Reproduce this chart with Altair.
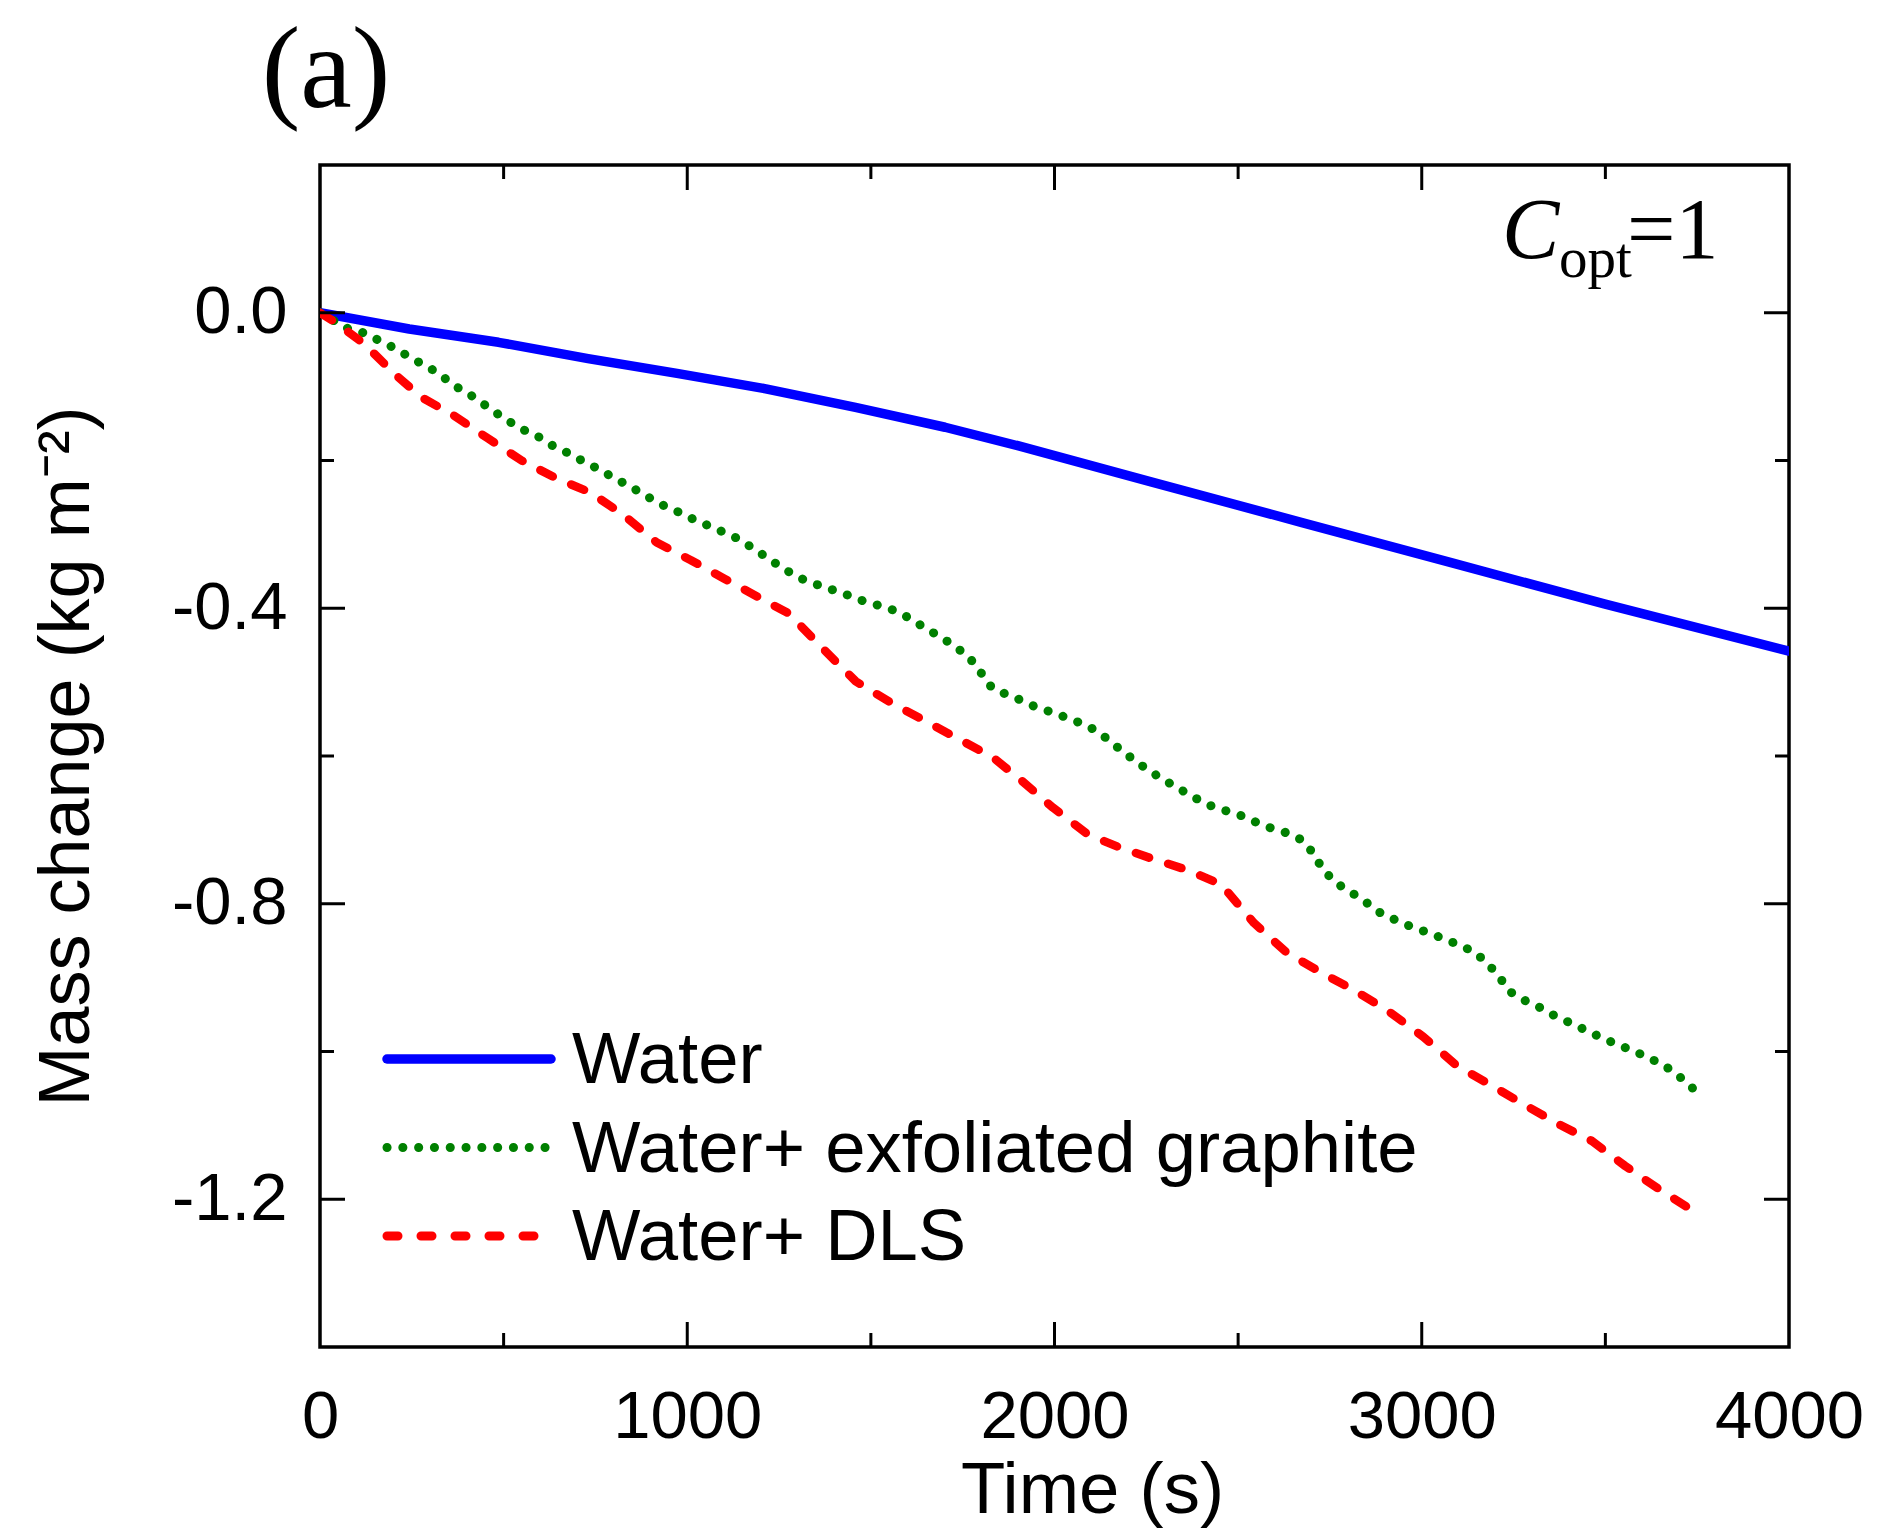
import altair as alt
import pandas as pd

# ---------------- data ----------------
SERIES = ["Water", "Water+ exfoliated graphite", "Water+ DLS"]
COLORS = ["#0000FF", "#008000", "#FF0000"]

water_t = [0, 243, 486, 730, 972, 1214, 1458, 1702, 1900, 2263, 2674, 3085, 3497, 4000]
water_v = [0.0, -0.022, -0.040, -0.062, -0.082, -0.103, -0.128, -0.155, -0.180, -0.229, -0.284,
           -0.339, -0.394, -0.458]

graph_t = [0, 78, 125, 166, 208, 250, 297, 338, 380, 422, 463, 505, 547, 589, 630, 672, 713, 760,
           802, 844, 885, 927, 969, 1010, 1052, 1094, 1139, 1180, 1222, 1264, 1306, 1348, 1389,
           1431, 1472, 1514, 1558, 1604, 1642, 1683, 1725, 1767, 1798, 1830, 1871, 1912, 1954,
           1996, 2037, 2085, 2121, 2166, 2210, 2252, 2293, 2335, 2376, 2418, 2459, 2505, 2546,
           2587, 2632, 2671, 2704, 2731, 2767, 2809, 2851, 2892, 2934, 2976, 3017, 3058, 3103,
           3142, 3178, 3211, 3240, 3281, 3324, 3367, 3408, 3450, 3493, 3535, 3576, 3620, 3661,
           3704, 3750]
graph_v = [0.0, -0.022, -0.028, -0.039, -0.049, -0.062, -0.074, -0.088, -0.103, -0.115, -0.130,
           -0.144, -0.157, -0.166, -0.179, -0.189, -0.200, -0.212, -0.224, -0.235, -0.247, -0.259,
           -0.268, -0.278, -0.287, -0.296, -0.306, -0.319, -0.333, -0.347, -0.359, -0.367, -0.374,
           -0.381, -0.389, -0.395, -0.402, -0.413, -0.425, -0.437, -0.450, -0.466, -0.486, -0.508,
           -0.517, -0.525, -0.535, -0.541, -0.549, -0.558, -0.568, -0.586, -0.603, -0.618, -0.631,
           -0.643, -0.655, -0.666, -0.673, -0.680, -0.689, -0.697, -0.704, -0.713, -0.731, -0.754,
           -0.772, -0.785, -0.799, -0.814, -0.823, -0.832, -0.839, -0.847, -0.856, -0.865, -0.880,
           -0.899, -0.919, -0.931, -0.941, -0.953, -0.962, -0.972, -0.982, -0.991, -0.999, -1.009,
           -1.019, -1.035, -1.055]

dls_t = [0, 42, 120, 208, 275, 364, 457, 549, 643, 735, 822, 917, 1010, 1101, 1190, 1276, 1370,
         1459, 1552, 1642, 1735, 1830, 1912, 1996, 2090, 2178, 2272, 2366, 2454, 2543, 2632, 2726,
         2819, 2908, 3004, 3095, 3190, 3276, 3371, 3463, 3554, 3645, 3740, 3758]
dls_v = [0.0, -0.013, -0.042, -0.085, -0.114, -0.139, -0.170, -0.200, -0.224, -0.243, -0.272,
         -0.311, -0.335, -0.360, -0.384, -0.407, -0.455, -0.499, -0.527, -0.551, -0.576, -0.601,
         -0.634, -0.670, -0.706, -0.724, -0.740, -0.755, -0.774, -0.826, -0.866, -0.893, -0.918,
         -0.945, -0.980, -1.019, -1.046, -1.071, -1.098, -1.121, -1.155, -1.186, -1.216, -1.220]

X_LABELS = [0, 1000, 2000, 3000, 4000]
Y_LABELS = [-1.2, -0.8, -0.4, 0.0]
X_MAJOR = [1000, 2000, 3000]
X_MINOR = [500, 1500, 2500, 3500]
Y_MAJOR = [-1.2, -0.8, -0.4, 0.0]
Y_MINOR = [-1.0, -0.6, -0.2]

PANEL = "(a)"
ANN_C, ANN_SUB, ANN_EQ = "C", "opt", "=1"

# ---------------- layout ----------------
W, H = 1469, 1182
SANS = "Liberation Sans"
SERIF = "Liberation Serif"

xs = alt.Scale(domain=[0, 4000], nice=False, zero=False)
ys = alt.Scale(domain=[-1.4, 0.2], nice=False, zero=False)

x_axis = alt.Axis(values=X_LABELS, format="d", title="Time (s)", ticks=False, tickSize=0,
                  domain=False, grid=False, labelFont=SANS, labelFontSize=67, labelColor="black",
                  labelPadding=37, labelFlush=False, labelOverlap=False, titleFont=SANS,
                  titleFontSize=72.5, titleFontWeight="normal", titleColor="black",
                  titlePadding=5, titleX=772, titleAlign="center")
y_axis = alt.Axis(values=Y_LABELS, title="Mass change (kg m⁻²)", ticks=False, tickSize=0,
                  domain=False, grid=False, labelFont=SANS, labelFontSize=67, labelColor="black",
                  labelPadding=33, labelFlush=False, labelOverlap=False,
                  labelExpr="replace(format(datum.value, '.1f'), '−', '-')",
                  titleFont=SANS, titleFontSize=72, titleFontWeight="normal", titleColor="black",
                  titlePadding=68)

X_ENC = dict(scale=xs, axis=x_axis)
Y_ENC = dict(scale=ys, axis=y_axis)

styles = [
    dict(strokeWidth=9.5),
    dict(strokeWidth=9, strokeDash=[0.1, 15.7]),
    dict(strokeWidth=8.5, strokeDash=[14, 20]),
]
legend_dash = [None, [0.1, 15.7], [11, 23]]

series_data = [(water_t, water_v), (graph_t, graph_v), (dls_t, dls_v)]

layers = []
for i, (name, (ts, vs)) in enumerate(zip(SERIES, series_data)):
    df = pd.DataFrame({"t": ts, "v": vs})
    layers.append(
        alt.Chart(df).mark_line(color=COLORS[i], strokeCap="round", strokeJoin="round",
                                clip=True, **styles[i])
        .encode(x=alt.X("t:Q", **X_ENC), y=alt.Y("v:Q", **Y_ENC))
    )

# inward ticks on all four sides
def xticks(vals, length):
    d = pd.DataFrame({"t": vals})
    bottom = alt.Chart(d).mark_rule(color="black", strokeWidth=3).encode(
        x=alt.X("t:Q", **X_ENC), y=alt.value(H), y2=alt.value(H - length))
    top = alt.Chart(d).mark_rule(color="black", strokeWidth=3).encode(
        x=alt.X("t:Q", **X_ENC), y=alt.value(0), y2=alt.value(length))
    return [bottom, top]

def yticks(vals, length):
    d = pd.DataFrame({"v": vals})
    left = alt.Chart(d).mark_rule(color="black", strokeWidth=3).encode(
        y=alt.Y("v:Q", **Y_ENC), x=alt.value(0), x2=alt.value(length))
    right = alt.Chart(d).mark_rule(color="black", strokeWidth=3).encode(
        y=alt.Y("v:Q", **Y_ENC), x=alt.value(W), x2=alt.value(W - length))
    return [left, right]

layers += xticks(X_MAJOR, 25) + xticks(X_MINOR, 14) + yticks(Y_MAJOR, 25) + yticks(Y_MINOR, 14)

# legend drawn inside the plot
for i, name in enumerate(SERIES):
    yy = 894 + 88.5 * i
    d = pd.DataFrame({"label": [name]})
    rule_kw = dict(color=COLORS[i], strokeWidth=9.5 if i == 0 else 9, strokeCap="round")
    if legend_dash[i] is not None:
        rule_kw["strokeDash"] = legend_dash[i]
    layers.append(alt.Chart(d).mark_rule(**rule_kw).encode(
        x=alt.value(67), x2=alt.value(231), y=alt.value(yy)))
    layers.append(alt.Chart(d).mark_text(align="left", baseline="middle", font=SANS,
                                         fontSize=72.5, color="black").encode(
        x=alt.value(252), y=alt.value(yy + 2), text="label:N"))

# annotations
def ann(text, x, y, size, style="normal", align="left"):
    d = pd.DataFrame({"label": [text]})
    return alt.Chart(d).mark_text(align=align, baseline="alphabetic", font=SERIF,
                                  fontSize=size, fontStyle=style, color="black").encode(
        x=alt.value(x), y=alt.value(y), text="label:N")

layers.append(ann(PANEL, 6, -58, 116, align="center"))
layers.append(ann(ANN_C, 1182, 93, 86, style="italic"))
layers.append(ann(ANN_SUB, 1239, 112, 57))
layers.append(ann(ANN_EQ, 1307, 93, 86))

chart = alt.layer(*layers).properties(
    width=W, height=H,
    autosize=alt.AutoSizeParams(type="none"),
    padding={"left": 320, "top": 165, "right": 89, "bottom": 184},
    background="white",
).configure_view(stroke="black", strokeWidth=3.5)

chart.save("out.html", embed_options={"renderer": "svg", "actions": False})
